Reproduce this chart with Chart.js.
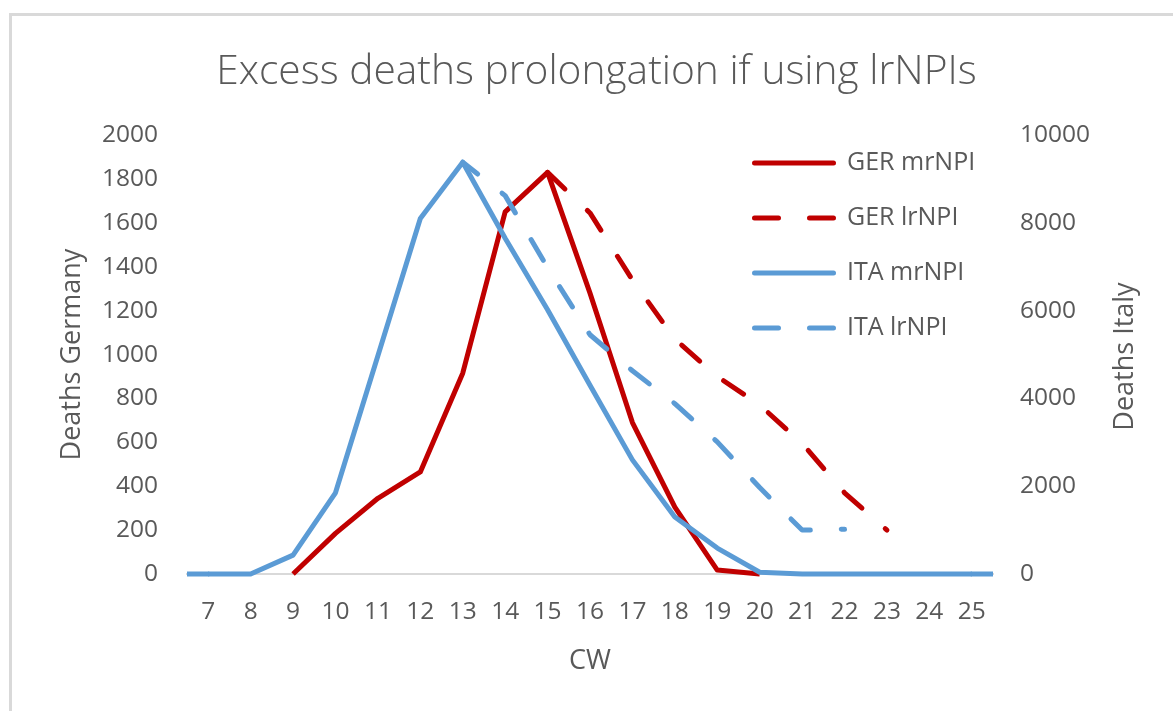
<!DOCTYPE html>
<html>
<head>
<meta charset="utf-8">
<script src="https://cdn.jsdelivr.net/npm/chart.js@4.4.0/dist/chart.umd.min.js"></script>
<style>
  html, body { margin: 0; padding: 0; background: #ffffff; }
  canvas { display: block; }
</style>
</head>
<body>
<canvas id="chart" width="1173" height="711"></canvas>
<script>
// ---- data ----
const calendarWeeks = ['7','8','9','10','11','12','13','14','15','16','17','18','19','20','21','22','23','24','25'];
const gerMrNPI = [null, null, 0, 185, 345, 465, 915, 1650, 1830, 1280, 690, 305, 18, 0, null, null, null, null, null];
const gerLrNPI = [null, null, null, null, null, null, null, null, 1830, 1645, 1340, 1070, 900, 770, 595, 370, 200, null, null];
const itaMrNPI = [0, 0, 430, 1850, 4970, 8100, 9380, 7650, 6020, 4300, 2600, 1300, 590, 40, 0, 0, 0, 0, 0];
const itaLrNPI = [null, null, null, null, null, null, 9380, 8620, 6980, 5450, 4630, 3880, 3010, 1970, 1000, 1020, null, null, null];
const germanyAxis = [0, 2000, 200];   // min, max, step
const italyAxis = [0, 10000, 2000];   // min, max, step
const seriesNames = ['GER mrNPI', 'GER lrNPI', 'ITA mrNPI', 'ITA lrNPI'];
const chartTitle = 'Excess deaths prolongation if using lrNPIs';
const axisTitles = ['Deaths Germany', 'Deaths Italy', 'CW'];

// ---- styling ----
const FONT = "'Open Sans', 'DejaVu Sans', sans-serif";
const GREY = '#595959';
const RED = '#C00000';
const BLUE = '#5B9BD5';
const DASH = [24, 31];

const framePlugin = {
  id: 'frame',
  beforeDraw(chart) {
    const { ctx } = chart;
    ctx.save();
    ctx.fillStyle = '#ffffff';
    ctx.fillRect(0, 0, chart.width, chart.height);
    ctx.strokeStyle = '#D9D9D9';
    ctx.lineWidth = 3;
    ctx.strokeRect(10.5, 14.5, chart.width + 20, chart.height + 20);
    ctx.restore();
  }
};

// the solid ITA line runs flat out to both edges of the plot area
const edgePlugin = {
  id: 'edgeExtend',
  beforeDatasetsDraw(chart) {
    const { ctx, chartArea } = chart;
    chart.data.datasets.forEach((ds, i) => {
      if (!ds.extendToEdges) return;
      const pts = chart.getDatasetMeta(i).data.filter(p => !p.skip);
      if (!pts.length) return;
      const first = pts[0], last = pts[pts.length - 1];
      ctx.save();
      ctx.strokeStyle = ds.borderColor;
      ctx.lineWidth = ds.borderWidth;
      ctx.lineCap = 'butt';
      ctx.beginPath();
      ctx.moveTo(chartArea.left, first.y);
      ctx.lineTo(first.x + 1, first.y);
      ctx.moveTo(last.x - 1, last.y);
      ctx.lineTo(chartArea.right, last.y);
      ctx.stroke();
      ctx.restore();
    });
  }
};

const legendPlugin = {
  id: 'insideLegend',
  afterDraw(chart) {
    const { ctx, chartArea } = chart;
    const x0 = chartArea.left + 565, len = 84, textX = x0 + 95;
    const y0 = chartArea.top + 28, gap = 55;
    chart.data.datasets.forEach((ds, i) => {
      const y = y0 + i * gap;
      ctx.save();
      ctx.strokeStyle = ds.borderColor;
      ctx.lineWidth = ds.borderWidth;
      ctx.setLineDash(ds.borderDash || []);
      ctx.lineCap = 'round';
      ctx.beginPath();
      ctx.moveTo(x0 + 2.5, y);
      ctx.lineTo(x0 + len - 2.5, y);
      ctx.stroke();
      ctx.setLineDash([]);
      ctx.fillStyle = GREY;
      ctx.font = '25px ' + FONT;
      ctx.textBaseline = 'middle';
      ctx.textAlign = 'left';
      ctx.fillText(ds.label, textX, y);
      ctx.restore();
    });
  }
};

const rightTitlePlugin = {
  id: 'rightTitle',
  afterDraw(chart) {
    const { ctx, chartArea } = chart;
    const s = chart.scales.yIta;
    ctx.save();
    ctx.translate(s.right - 48, (chartArea.top + chartArea.bottom) / 2 + 2);
    ctx.rotate(-Math.PI / 2);
    ctx.fillStyle = GREY;
    ctx.font = '27px ' + FONT;
    ctx.textAlign = 'center';
    ctx.textBaseline = 'middle';
    ctx.fillText(axisTitles[1], 0, 0);
    ctx.restore();
  }
};

const tickFont = { family: FONT, size: 24.5 };
const titleFont = { family: FONT, size: 27 };

new Chart(document.getElementById('chart'), {
  type: 'line',
  data: {
    labels: calendarWeeks,
    datasets: [
      { label: seriesNames[0], data: gerMrNPI, yAxisID: 'yGer', borderColor: RED, borderWidth: 5, clip: false,
        borderCapStyle: 'butt', borderJoinStyle: 'round', pointRadius: 0, fill: false, order: 3 },
      { label: seriesNames[1], data: gerLrNPI, yAxisID: 'yGer', borderColor: RED, borderWidth: 5, borderDash: DASH, clip: false,
        borderCapStyle: 'round', borderJoinStyle: 'round', pointRadius: 0, fill: false, order: 2 },
      { label: seriesNames[2], data: itaMrNPI, yAxisID: 'yIta', borderColor: BLUE, borderWidth: 5, clip: false,
        borderCapStyle: 'butt', borderJoinStyle: 'round', pointRadius: 0, fill: false, order: 1, extendToEdges: true },
      { label: seriesNames[3], data: itaLrNPI, yAxisID: 'yIta', borderColor: BLUE, borderWidth: 5, borderDash: DASH, clip: false,
        borderDashOffset: 5, borderCapStyle: 'round', borderJoinStyle: 'round', pointRadius: 0, fill: false, order: 0 }
    ]
  },
  options: {
    responsive: false,
    animation: false,
    devicePixelRatio: 1,
    layout: { padding: { left: 20, right: 0, top: 0, bottom: 0 } },
    plugins: {
      legend: { display: false },
      tooltip: { enabled: false },
      title: {
        display: true,
        text: chartTitle,
        color: GREY,
        font: { family: FONT, size: 40.7, weight: '300', lineHeight: 1.2 },
        padding: { top: 47.6, bottom: 38.6 }
      }
    },
    scales: {
      x: {
        type: 'category',
        offset: true,
        grid: { display: false, drawTicks: false },
        border: { display: true, color: '#D9D9D9', width: 2 },
        ticks: { color: GREY, font: tickFont, padding: 23, maxRotation: 0, autoSkip: false },
        title: { display: true, text: axisTitles[2], color: GREY, font: titleFont, padding: { top: 0, bottom: 33 } },
        afterFit(s) { s.height = 137; }
      },
      yGer: {
        type: 'linear',
        position: 'left',
        min: germanyAxis[0],
        max: germanyAxis[1],
        grid: { display: false, drawTicks: false },
        border: { display: false },
        ticks: { stepSize: germanyAxis[2], color: GREY, font: tickFont, padding: 29, callback: v => String(v) },
        title: { display: true, text: axisTitles[0], color: GREY, font: titleFont, padding: { top: 36, bottom: 0 } },
        afterFit(s) { s.width = 167; }
      },
      yIta: {
        type: 'linear',
        position: 'right',
        min: italyAxis[0],
        max: italyAxis[1],
        grid: { display: false, drawTicks: false, drawOnChartArea: false },
        border: { display: false },
        ticks: { stepSize: italyAxis[2], color: GREY, font: tickFont, padding: 27, callback: v => String(v) },
        afterFit(s) { s.width = 180; }
      }
    }
  },
  plugins: [framePlugin, edgePlugin, legendPlugin, rightTitlePlugin]
});
</script>
</body>
</html>
